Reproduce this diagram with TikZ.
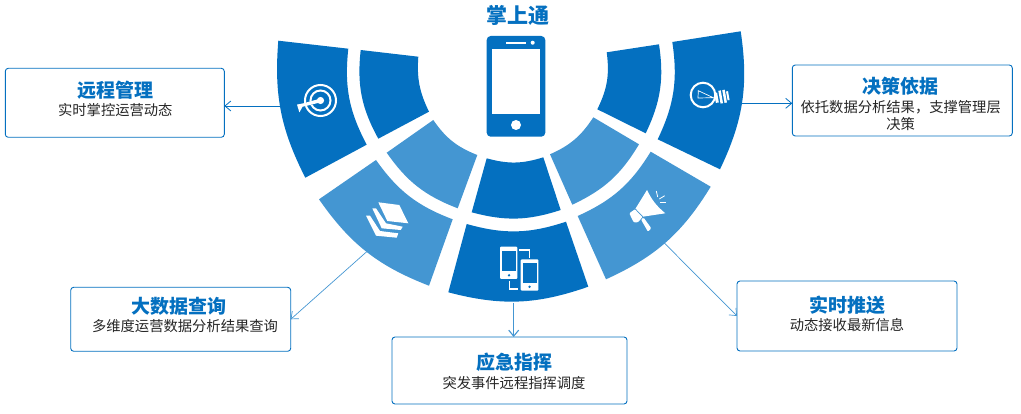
\documentclass[tikz,border=0pt]{standalone}
\usepackage{fontspec}
\setmainfont{Noto Sans CJK SC}
\usetikzlibrary{arrows.meta}
\definecolor{fandark}{HTML}{0470C0}
\definecolor{fanlight}{HTML}{4496D2}

\begin{document}
\begin{tikzpicture}[x=1pt, y=-1pt, style={
  darkseg/.style={fill=fandark},
  lightseg/.style={fill=fanlight},
  infobox/.style={
    draw=fandark,
    line width=0.9,
    rounded corners=3,
    fill=white,
    outer sep=0,
    inner sep=0,
  },
  boxhead/.style={
    inner sep=0,
    text=fandark,
    font=\bfseries\fontsize{19}{19}\selectfont,
  },
  boxtext/.style={
    inner sep=0,
    align=center,
    text=black!85,
    font=\fontsize{14.3}{17.5}\selectfont,
  },
  myarrow/.style={-{Straight Barb[length=6pt,width=10pt]}, draw=fandark, line width=0.8},
  thinarrow/.style={myarrow, draw=fanlight, line width=0.7},
  wideicon/.style={draw=white, line width=2},
}]
\useasboundingbox (0,0) rectangle (1021,414);

\fill[darkseg] (278.3,40.7) -- (348.3,48.7) to[bend right=17] (366.7,144.7)
  -- (305.3,177.7) to[bend left=15.75] (278.3,40.7) -- cycle;
\fill[darkseg] (360.7,50) -- (418.3,56.7) to[bend right=15] (429,111.7)
  -- (378.3,138.7) to[bend left=17.5] (360.7,50) -- cycle;
\fill[lightseg] (433.3,120) to[bend right=17] (477.3,155)
  -- (457.7,208.3) to[bend left=17] (386.7,152.7) -- cycle;
\fill[lightseg] (376,160) to[bend right=17] (452.7,219.3)
  -- (429,285.7) to[bend left=17] (319,199.3) -- cycle;
\fill[darkseg] (486.7,158.3) to[bend right=16.5] (543.3,157.3)
  -- (560.7,210) to[bend left=16.5] (471.7,212.3) -- cycle;
\fill[darkseg] (466.7,224) to[bend right=17] (566,221.7)
  -- (588.3,286.7) to[bend left=17] (448.3,292.3) -- cycle;
\fill[lightseg] (577.7,216) to[bend right=17] (650.7,151.7)
  -- (710.7,186.7) to[bend left=17] (606,279.3) -- cycle;
\fill[lightseg] (550,154.3) to[bend right=16.5] (593.3,117.3)
  -- (639,144.3) to[bend left=17] (572.3,204.7) -- cycle;
\fill[darkseg] (606.7,52.3) -- (659,44.3) to[bend left=17] (645.7,133.3)
  -- (597.3,109.3) to[bend right=17] (606.7,52.3) -- cycle;
\fill[darkseg] (672.3,42) -- (740.7,31.3) to[bend left=17] (720,169.3)
  -- (657.7,139.3) to[bend right=17] (672.3,42) -- cycle;

% handset in the middle
\node[boxhead, font=\bfseries\fontsize{21}{21}\selectfont] (handsethead) at (518,15) {掌上通};
\fill[fandark, rounded corners=4] (486.7,36) rectangle (545.3,136.7);
\fill[white] (491.7,49) rectangle (539.5,114);
\fill[white] (516,125) circle[radius=5];
\fill[white] (506,42) rectangle (526,44);
\fill[white] (532.7,42.7) circle[radius=2];

% target
\draw[wideicon] (320.5,100.5) circle[radius=15.5];
\draw[wideicon] (320.5,100.5) circle[radius=10];
\draw[draw=fandark, line width=3] (296,107) -- (316,102);
\fill[white] (320.5,100.5) circle[radius=3.6];
\fill[white] (320,98.7) -- (303,103.4) -- (297,104.6) -- (299.4,112.4) -- (302.5,106.8) -- (320,102.5) -- cycle;

% bulb
\draw[wideicon] (703,95) circle[radius=12.3];
\draw[white, line width=0.7] (698.3,90.7) -- (713.3,97.7) -- (698,98) -- cycle;
\begin{scope}[shift={(715,98)}, rotate=10]
  \fill[white] (0,-5) rectangle (3,5);
  \fill[white] (4.5,-6.5) rectangle (7,6.5);
  \fill[white] (8.5,-6.5) rectangle (11,6.5);
  \fill[white] (12,-4.5) rectangle (14,4.5);
\end{scope}

% layers
\fill[white] (378.3,202.3) -- (399.3,205) -- (408.3,223.3) -- (387.3,221) -- cycle;
\fill[white] (372.3,208.3) -- (376,208.3) -- (386,223.3) -- (402.7,226.7) -- (400.7,230) -- (381.7,228.3) -- cycle;
\fill[white] (366,215.7) -- (370,215.7) -- (380,231) -- (398.3,233.3) -- (396.7,237.7) -- (376,235.7) -- cycle;

% two phones
\fill[white, rounded corners=1] (500,246.7) rectangle (517.3,279);
\fill[fandark] (501.7,251) rectangle (515.7,271.5);
\fill[fandark] (509,275.3) circle[radius=1.3];
\fill[white, rounded corners=1] (520.7,259.3) rectangle (538.3,290.7);
\fill[fandark] (522.5,263) rectangle (536.5,283);
\fill[fandark] (529.5,286.8) circle[radius=1.3];
\draw[white, line width=1.2] (519.3,250) -- (529.3,250) -- (529.3,258.3);
\draw[white, line width=1.2] (509.3,281) -- (509.3,289) -- (518.3,289);

% megaphone
\fill[white] (647,190) to[bend right=12] (665.3,213.3) -- (642.7,216.7) -- (635.3,209) -- cycle;
\fill[white, rounded corners=1] (629.3,213.3) -- (635.3,209) -- (642.7,216.7) -- (638,222.3) -- (633.7,222.3) -- cycle;
\draw[fanlight, line width=0.7] (635.3,209) -- (642.7,216.7);
\fill[white, rounded corners=1] (641,219.5) -- (643.6,217.6) -- (651.3,228.3) -- (648,231.7) -- cycle;
\draw[white, line width=0.8] (656.3,191) -- (657.7,197);
\draw[white, line width=0.8] (664.7,195.7) -- (659.3,199);
\draw[white, line width=0.8] (666,202.7) -- (660.3,202.7);

% boxes
\node[infobox, minimum width=219, minimum height=69] (remote) at (114.8,102.8) {};
\node[boxhead] (remotehead) at (115.3,90.7) {远程管理};
\node[boxtext, below of=remotehead, node distance=19.5pt] (remotetext) {实时掌控运营动态};

\node[infobox, minimum width=220, minimum height=71] (decide) at (902.3,100.5) {};
\node[boxhead] (decidehead) at (900.7,86.7) {决策依据};
\node[boxtext, below of=decidehead, node distance=28.7pt] (decidetext) {依托数据分析结果，支撑管理层\\决策};

\node[infobox, minimum width=220, minimum height=64] (query) at (180.7,319.3) {};
\node[boxhead] (queryhead) at (178.7,306.7) {大数据查询};
\node[boxtext] (querytext) at (185,326) {多维度运营数据分析结果查询};

\node[infobox, minimum width=235, minimum height=67] (command) at (509.5,370.5) {};
\node[boxhead] (commandhead) at (514,362.7) {应急指挥};
\node[boxtext, below of=commandhead, node distance=20pt] (commandtext) {突发事件远程指挥调度};

\node[infobox, minimum width=220, minimum height=70] (push) at (847,316) {};
\node[boxhead] (pushhead) at (847,305) {实时推送};
\node[boxtext, below of=pushhead, node distance=20pt] (pushtext) {动态接收最新信息};

% connectors
\coordinate (remotefoot) at (281,106);
\coordinate (decidefoot) at (741,103.3);
\coordinate (queryfoot) at (366.7,251.7);
\coordinate (commandfoot) at (513.7,303);
\coordinate (pushfoot) at (664,242.7);
\draw[myarrow] (remotefoot) -- (remote.east |- remotefoot);
\draw[myarrow] (decidefoot) -- (decide.west |- decidefoot);
\draw[thinarrow] (queryfoot) -- (query.east);
\draw[thinarrow, line width=1.1] (commandfoot) -- (commandfoot |- command.north);
\draw[thinarrow] (pushfoot) -- (push.west);
\end{tikzpicture}
\end{document}
